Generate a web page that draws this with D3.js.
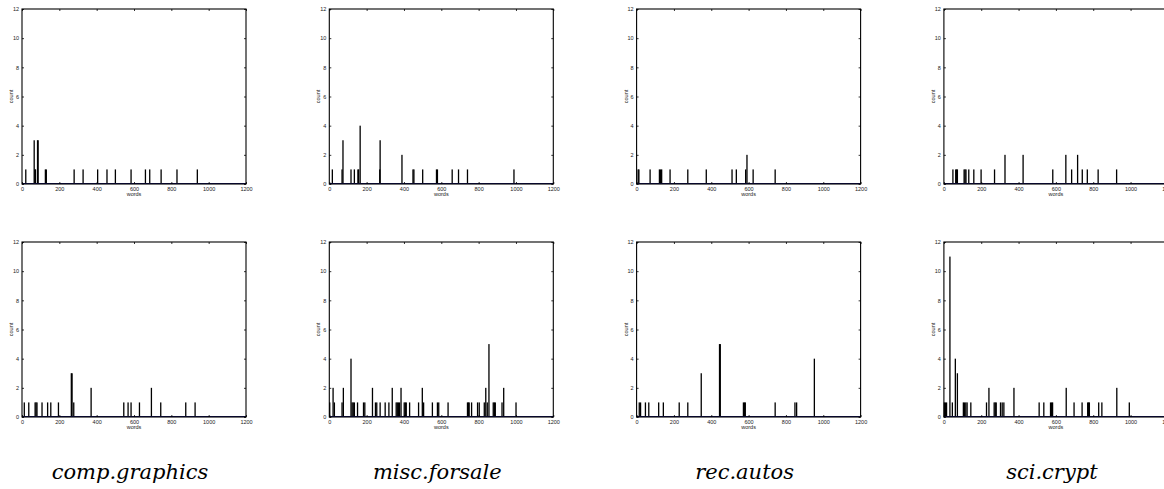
<!DOCTYPE html>
<html>
<head>
<meta charset="utf-8">
<script src="https://cdn.jsdelivr.net/npm/d3@7"></script>
<style>
  body { margin: 0; background: #fff; }
  svg { display: block; }
</style>
</head>
<body>
<div id="chart"></div>
<script>
// newsgroup names, one per column
var groups = ['comp.graphics', 'misc.forsale', 'rec.autos', 'sci.crypt']

// [words, count] pairs, top row
var graphicsTop = [[20,1],[65,3],[69,1],[72,1],[83,3],[86,3],[125,1],[130,1],[279,1],[327,1],[405,1],[455,1],[500,1],[584,1],[661,1],[684,1],[745,1],[830,1],[939,1]]
var forsaleTop = [[16,1],[68,1],[73,3],[116,1],[134,1],[153,1],[157,1],[165,4],[270,1],[272,3],[389,2],[448,1],[453,1],[500,1],[574,1],[579,1],[658,1],[692,1],[740,1],[989,1]]
var autosTop = [[8,1],[12,1],[72,1],[122,1],[128,1],[134,1],[179,1],[274,1],[373,1],[511,1],[534,1],[584,1],[591,2],[624,1],[742,1]]
var cryptTop = [[48,1],[63,1],[68,1],[72,1],[108,1],[113,1],[118,1],[133,1],[160,1],[199,1],[271,1],[327,2],[424,2],[583,1],[653,2],[684,1],[716,2],[741,1],[768,1],[826,1],[925,1]]

// bottom row
var graphicsBottom = [[12,1],[36,1],[70,1],[75,1],[80,1],[107,1],[137,1],[154,1],[195,1],[264,3],[268,3],[277,1],[370,2],[545,1],[568,1],[584,1],[629,1],[693,2],[743,1],[877,1],[927,1]]
var forsaleBottom = [[2,1],[20,2],[27,1],[68,1],[75,2],[116,4],[122,1],[128,1],[134,1],[151,1],[183,1],[190,1],[231,2],[247,1],[254,1],[272,1],[299,1],[319,1],[337,2],[358,1],[364,1],[370,1],[376,1],[384,2],[401,1],[407,1],[412,1],[430,1],[478,1],[498,2],[505,1],[552,1],[579,1],[586,1],[636,1],[740,1],[745,1],[749,1],[762,1],[794,1],[803,1],[830,1],[838,2],[846,1],[855,5],[878,1],[884,1],[889,1],[925,1],[934,2],[1000,1]]
var autosBottom = [[14,1],[21,1],[47,1],[65,1],[118,1],[143,1],[228,1],[274,1],[346,3],[444,5],[448,5],[572,1],[578,1],[582,1],[742,1],[848,1],[857,1],[952,4]]
var cryptBottom = [[2,1],[8,1],[14,1],[32,11],[45,1],[61,4],[72,3],[104,1],[110,1],[117,1],[124,1],[144,1],[228,1],[241,2],[269,1],[275,1],[280,1],[303,1],[312,1],[321,1],[375,2],[510,1],[535,1],[571,1],[577,1],[582,1],[655,2],[697,1],[740,1],[770,1],[775,1],[779,1],[829,1],[846,1],[926,2],[993,1]]

var rows = [
  [graphicsTop, forsaleTop, autosTop, cryptTop],
  [graphicsBottom, forsaleBottom, autosBottom, cryptBottom]
]

var xTicks = [0, 200, 400, 600, 800, 1000, 1200]
  , yTicks = [0, 2, 4, 6, 8, 10, 12]

var W = 1164
  , H = 489
  , pw = 224
  , ph = 175
  , left0 = 22
  , colStep = 307.3
  , rowTops = [9, 242]
  , small = "'Liberation Sans', Arial, sans-serif"

var svg = d3.select('#chart').append('svg').attr('width', W).attr('height', H)

var x = d3.scaleLinear().domain([0, 1200]).range([0, pw])
  , y = d3.scaleLinear().domain([0, 12]).range([ph, 0])

rows.forEach(function (row, r) {
  row.forEach(function (data, c) {
    var g = svg.append('g')
               .attr('transform', 'translate(' + (left0 + c * colStep) + ',' + rowTops[r] + ')')
    panel(g, data)
  })
})

function panel (g, data) {
  g.append('rect').attr('width', pw).attr('height', ph).attr('fill', '#fff')

  // bars
  g.selectAll('rect.bar').data(data)
   .enter().append('rect')
   .attr('class', 'bar')
   .attr('x', function (d) { return x(d[0]) - 0.6 })
   .attr('width', 1.3)
   .attr('y', function (d) { return y(d[1]) })
   .attr('height', function (d) { return y(0) - y(d[1]) })
   .attr('fill', '#000')

  // baseline
  g.append('line').attr('x1', 0).attr('x2', pw).attr('y1', ph - 0.5).attr('y2', ph - 0.5)
   .attr('stroke', '#101060').attr('stroke-width', 1.2)

  // inward ticks on all four sides
  var xb = d3.axisBottom(x).tickValues(xTicks).tickSizeInner(-2).tickSizeOuter(0).tickPadding(3).tickFormat(d3.format('d'))
    , xt = d3.axisTop(x).tickValues(xTicks).tickSizeInner(-2).tickSizeOuter(0).tickFormat('')
    , yl = d3.axisLeft(y).tickValues(yTicks).tickSizeInner(-2).tickSizeOuter(0).tickPadding(3).tickFormat(d3.format('d'))
    , yr = d3.axisRight(y).tickValues(yTicks).tickSizeInner(-2).tickSizeOuter(0).tickFormat('')

  var ax = [
    g.append('g').attr('transform', 'translate(0,' + ph + ')').call(xb),
    g.append('g').call(xt),
    g.append('g').call(yl),
    g.append('g').attr('transform', 'translate(' + pw + ',0)').call(yr)
  ]
  ax.forEach(function (a) {
    a.select('.domain').remove()
    a.selectAll('line').attr('stroke', '#000').attr('stroke-width', 0.8)
    a.selectAll('text').attr('font-family', small)
     .attr('font-size', 5.5).attr('fill', '#222')
  })

  g.append('rect').attr('width', pw).attr('height', ph)
   .attr('fill', 'none').attr('stroke', '#000').attr('stroke-width', 1.1)

  g.append('text').attr('x', pw / 2).attr('y', ph + 12)
   .attr('text-anchor', 'middle')
   .attr('font-family', small).attr('font-size', 5.5).attr('fill', '#222')
   .text('words')

  g.append('text').attr('transform', 'translate(-9,' + ph / 2 + ') rotate(-90)')
   .attr('text-anchor', 'middle')
   .attr('font-family', small).attr('font-size', 5.5).attr('fill', '#222')
   .text('count')
}

svg.selectAll('text.name').data(groups)
   .enter().append('text')
   .attr('class', 'name')
   .attr('x', function (d, i) { return left0 + i * colStep + pw / 2 - 4 })
   .attr('y', 479)
   .attr('text-anchor', 'middle')
   .attr('font-family', "'DejaVu Serif', 'Liberation Serif', serif")
   .attr('font-style', 'italic')
   .attr('font-size', 21)
   .attr('fill', '#000')
   .text(function (d) { return d })
</script>
</body>
</html>
